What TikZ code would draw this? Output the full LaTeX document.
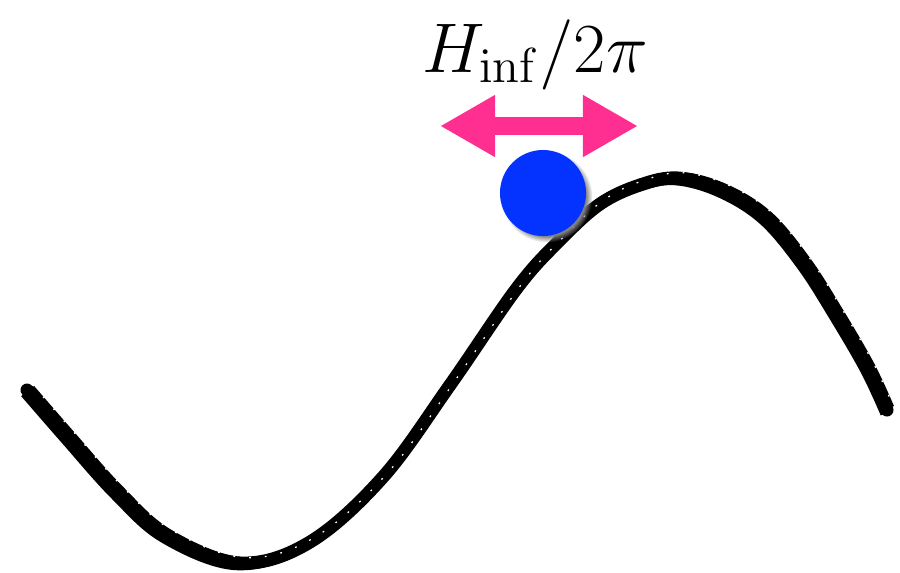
\documentclass[tikz,border=0pt]{standalone}
\usetikzlibrary{arrows.meta, shadows}
\usepackage{fix-cm}
\definecolor{arrowpink}{HTML}{FF2F92}
\definecolor{ballblue}{HTML}{0433FF}

\begin{document}
\begin{tikzpicture}[x=0.01cm, y=-0.01cm]
        \useasboundingbox (0,0) rectangle (900,572);

        % Potential
        \def\potential{(27,390) (67,436) (117,492) (167,536) (240,563) (310,542) (383,477) (450,385) (517,288) (560,240) (600,204) (640,185) (678,178) (722,190) (765,217) (803,262) (835,312) (867,367) (887,410)}
        \draw[line width=0.13cm, line cap=round] plot[smooth, tension=0.6] coordinates {\potential};
        \draw[line width=0.06cm, xshift=1.2pt, yshift=0.8pt] plot[smooth, tension=0.6] coordinates {\potential};
        \draw[line width=0.06cm, xshift=-1pt, yshift=-1.2pt] plot[smooth, tension=0.6] coordinates {\potential};
        \draw[white, line width=0.35pt, dash pattern=on 0.5pt off 4pt, xshift=1.6pt, yshift=1.5pt] plot[smooth, tension=0.6] coordinates {\potential};

        % Ball
        \node[circle, fill=ballblue, minimum size=0.86cm, inner sep=0pt,
              circular drop shadow={shadow xshift=1pt, shadow yshift=-1pt, shadow scale=1.06}] (ball) at (543,193) {};

        % Arrow
        \coordinate (left) at (440,126);
        \coordinate (right) at (638,126);
        \draw[arrowpink, line width=0.18cm, {Triangle[length=0.55cm, width=0.58cm]}-{Triangle[length=0.55cm, width=0.58cm]}] (left) -- (right);

        % Label
        \node[anchor=base, font=\fontsize{20}{24}\selectfont] (label) at (535,72) {$H_{\mathrm{inf}}/2\pi$};
    \end{tikzpicture}
\end{document}
